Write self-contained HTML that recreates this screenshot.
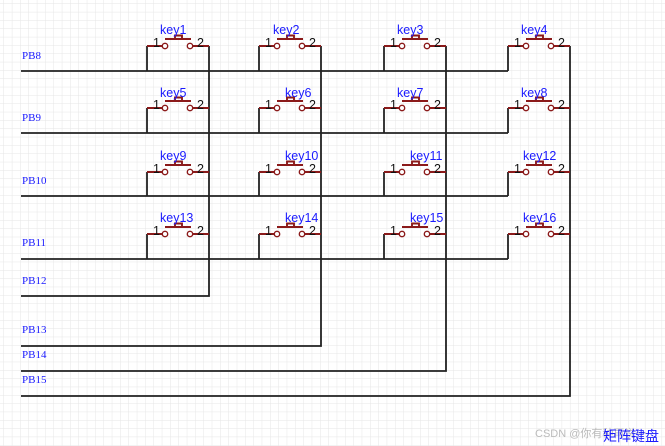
<!DOCTYPE html>
<html><head><meta charset="utf-8"><style>
html,body{margin:0;padding:0;background:#fff;}
svg{display:block;}
</style></head><body>
<svg width="665" height="446" viewBox="0 0 665 446" xmlns="http://www.w3.org/2000/svg">
<defs>
<pattern id="g" width="8.33" height="8.33" patternUnits="userSpaceOnUse" x="4" y="4">
<path d="M8.33 0V8.33M0 8.33H8.33" fill="none" stroke="#e6e6e6" stroke-width="1"/>
</pattern>
</defs>
<rect width="665" height="446" fill="#fff"/>
<rect width="665" height="446" fill="url(#g)"/>
<g stroke="#222" stroke-width="1.8" fill="none">
<path d="M21 71H508M21 133H508M21 196H508M21 259H508"/>
<path d="M21 296H209V46M21 346H321V46M21 371H446V46M21 396H570V46"/>
<path d="M147 71V46M259 71V46M384 71V46M508 71V46"/>
<path d="M147 133V108M259 133V108M384 133V108M508 133V108"/>
<path d="M147 196V172M259 196V172M384 196V172M508 196V172"/>
<path d="M147 259V234M259 259V234M384 259V234M508 259V234"/>
</g>
<g font-family="Liberation Serif, serif" font-size="11" fill="#1a1aff">
<text x="22" y="59">PB8</text>
<text x="22" y="121">PB9</text>
<text x="22" y="184">PB10</text>
<text x="22" y="246">PB11</text>
<text x="22" y="284">PB12</text>
<text x="22" y="333">PB13</text>
<text x="22" y="358">PB14</text>
<text x="22" y="383">PB15</text>
</g>
<g stroke="#8b1a1a" stroke-width="1.9" fill="none">
<path d="M147 46H163M192 46H209M165 39H191M175 35.5H182V39H175Z M259 46H275M304 46H321M277 39H303M287 35.5H294V39H287Z M384 46H400M429 46H446M402 39H428M412 35.5H419V39H412Z M508 46H524M553 46H570M526 39H552M536 35.5H543V39H536Z"/>
<path d="M147 108H163M192 108H209M165 101H191M175 97.5H182V101H175Z M259 108H275M304 108H321M277 101H303M287 97.5H294V101H287Z M384 108H400M429 108H446M402 101H428M412 97.5H419V101H412Z M508 108H524M553 108H570M526 101H552M536 97.5H543V101H536Z"/>
<path d="M147 172H163M192 172H209M165 165H191M175 161.5H182V165H175Z M259 172H275M304 172H321M277 165H303M287 161.5H294V165H287Z M384 172H400M429 172H446M402 165H428M412 161.5H419V165H412Z M508 172H524M553 172H570M526 165H552M536 161.5H543V165H536Z"/>
<path d="M147 234H163M192 234H209M165 227H191M175 223.5H182V227H175Z M259 234H275M304 234H321M277 227H303M287 223.5H294V227H287Z M384 234H400M429 234H446M402 227H428M412 223.5H419V227H412Z M508 234H524M553 234H570M526 227H552M536 223.5H543V227H536Z"/>
</g>
<g stroke="#8b1a1a" stroke-width="1.4" fill="#fff">
<circle cx="165" cy="46" r="2.7"/><circle cx="190" cy="46" r="2.7"/><circle cx="277" cy="46" r="2.7"/><circle cx="302" cy="46" r="2.7"/><circle cx="402" cy="46" r="2.7"/><circle cx="427" cy="46" r="2.7"/><circle cx="526" cy="46" r="2.7"/><circle cx="551" cy="46" r="2.7"/>
<circle cx="165" cy="108" r="2.7"/><circle cx="190" cy="108" r="2.7"/><circle cx="277" cy="108" r="2.7"/><circle cx="302" cy="108" r="2.7"/><circle cx="402" cy="108" r="2.7"/><circle cx="427" cy="108" r="2.7"/><circle cx="526" cy="108" r="2.7"/><circle cx="551" cy="108" r="2.7"/>
<circle cx="165" cy="172" r="2.7"/><circle cx="190" cy="172" r="2.7"/><circle cx="277" cy="172" r="2.7"/><circle cx="302" cy="172" r="2.7"/><circle cx="402" cy="172" r="2.7"/><circle cx="427" cy="172" r="2.7"/><circle cx="526" cy="172" r="2.7"/><circle cx="551" cy="172" r="2.7"/>
<circle cx="165" cy="234" r="2.7"/><circle cx="190" cy="234" r="2.7"/><circle cx="277" cy="234" r="2.7"/><circle cx="302" cy="234" r="2.7"/><circle cx="402" cy="234" r="2.7"/><circle cx="427" cy="234" r="2.7"/><circle cx="526" cy="234" r="2.7"/><circle cx="551" cy="234" r="2.7"/>
</g>
<g font-family="Liberation Sans, sans-serif" font-size="12.5" fill="#111">
<text x="153" y="47">1</text><text x="197" y="47">2</text><text x="265" y="47">1</text><text x="309" y="47">2</text><text x="390" y="47">1</text><text x="434" y="47">2</text><text x="514" y="47">1</text><text x="558" y="47">2</text>
<text x="153" y="109">1</text><text x="197" y="109">2</text><text x="265" y="109">1</text><text x="309" y="109">2</text><text x="390" y="109">1</text><text x="434" y="109">2</text><text x="514" y="109">1</text><text x="558" y="109">2</text>
<text x="153" y="173">1</text><text x="197" y="173">2</text><text x="265" y="173">1</text><text x="309" y="173">2</text><text x="390" y="173">1</text><text x="434" y="173">2</text><text x="514" y="173">1</text><text x="558" y="173">2</text>
<text x="153" y="235">1</text><text x="197" y="235">2</text><text x="265" y="235">1</text><text x="309" y="235">2</text><text x="390" y="235">1</text><text x="434" y="235">2</text><text x="514" y="235">1</text><text x="558" y="235">2</text>
</g>
<g font-family="Liberation Sans, sans-serif" font-size="12.5" fill="#1a1aff">
<text x="160" y="34">key1</text><text x="273" y="34">key2</text><text x="397" y="34">key3</text><text x="521" y="34">key4</text>
<text x="160" y="97">key5</text><text x="285" y="97">key6</text><text x="397" y="97">key7</text><text x="521" y="97">key8</text>
<text x="160" y="160">key9</text><text x="285" y="160">key10</text><text x="410" y="160">key11</text><text x="523" y="160">key12</text>
<text x="160" y="222">key13</text><text x="285" y="222">key14</text><text x="410" y="222">key15</text><text x="523" y="222">key16</text>
</g>
<text x="535" y="437" font-family="Liberation Sans, 'Noto Sans CJK SC', sans-serif" font-size="11" fill="#bbb">CSDN @你有种再说一</text>
<text x="603" y="441" font-family="Liberation Sans, 'Noto Sans CJK SC', sans-serif" font-size="14" fill="#1a1aff">矩阵键盘</text>
</svg>
</body></html>
